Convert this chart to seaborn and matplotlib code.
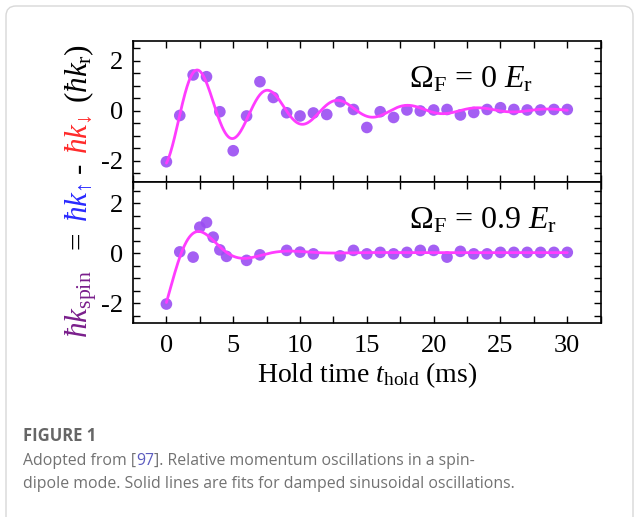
import numpy as np
import pandas as pd
import matplotlib
matplotlib.use("Agg")
import matplotlib.pyplot as plt
import seaborn as sns
from matplotlib.ticker import MultipleLocator, FixedLocator
from matplotlib.patches import FancyBboxPatch
from matplotlib.transforms import IdentityTransform

# ---------------- data ----------------
t_top = list(range(31))
y_top = [-2.04, -0.19, 1.43, 1.36, -0.04, -1.60, -0.21, 1.16, 0.53, -0.08,
         -0.21, -0.09, -0.15, 0.36, 0.05, -0.67, -0.04, -0.27, 0.03, -0.01,
         0.03, 0.05, -0.17, -0.07, 0.05, 0.12, 0.05, 0.03, 0.03, 0.05, 0.05]

t_bot = [0, 1, 2, 2.5, 3, 3.5, 4, 4.5, 6, 7, 9, 10, 11,
         13, 14, 15, 16, 17, 18, 19, 20, 21, 22, 23, 24, 25, 26, 27, 28, 29, 30]
y_bot = [-2.04, 0.05, -0.16, 1.04, 1.23, 0.64, 0.13, -0.13, -0.29, -0.07,
         0.11, 0.04, -0.03,
         -0.11, 0.11, -0.03, 0.03, -0.03, 0.03, 0.11, 0.11, -0.16, 0.07,
         -0.03, -0.03, 0.03, 0.03, 0.03, 0.03, 0.03, 0.03]

# damped-sinusoid fit parameters: amplitude, period (ms), decay (ms), phase (rad), offset
fit_top = [2.20, 5.25, 7.5, -2.864, 0.02]
fit_bot = [2.317, 6.8, 2.6, -2.612, 0.02]

panel_labels = [r"$\Omega_{\mathrm{F}}$ = 0 $E_{\mathrm{r}}$",
                r"$\Omega_{\mathrm{F}}$ = 0.9 $E_{\mathrm{r}}$"]
x_ticks = [0, 5, 10, 15, 20, 25, 30]
y_ticks = [-2, 0, 2]

# ---------------- style ----------------
sns.set_theme(style="ticks")
plt.rcParams.update({
    "font.family": ["Liberation Serif", "DejaVu Serif"],
    "mathtext.fontset": "custom",
    "mathtext.rm": "Liberation Serif",
    "mathtext.it": "Liberation Serif:italic",
    "mathtext.bf": "Liberation Serif:bold",
    "axes.unicode_minus": False,
    "text.color": "black",
    "axes.labelcolor": "black",
    "xtick.color": "black",
    "ytick.color": "black",
    "axes.edgecolor": "black",
})

W, H = 641, 517
fig = plt.figure(figsize=(W / 100, H / 100), dpi=100)
left, right = 133 / W, 600.7 / W
ax1 = fig.add_axes([left, 1 - 182 / H, right - left, (182 - 40.7) / H])
ax2 = fig.add_axes([left, 1 - 323 / H, right - left, (323 - 182) / H], sharex=ax1)

marker_color = "#9a4ef2"
line_color = "#ff3cff"

def fit_curve(p):
    A, T, tau, phi, c = p
    t = np.linspace(0, 30, 800)
    y = A * np.exp(-t / tau) * np.cos(2 * np.pi * t / T + phi) + c
    return pd.DataFrame({"t": t, "y": y})

for ax, tt, yy, p, lab, ylim in [
        (ax1, t_top, y_top, fit_top, panel_labels[0], (-2.85, 2.8)),
        (ax2, t_bot, y_bot, fit_bot, panel_labels[1], (-2.8, 2.85))]:
    df = pd.DataFrame({"t": tt, "y": yy})
    sns.scatterplot(data=df, x="t", y="y", ax=ax, color=marker_color, s=70,
                    edgecolor="none", alpha=0.9, zorder=2)
    sns.lineplot(data=fit_curve(p), x="t", y="y", ax=ax, color=line_color,
                 lw=2.0, zorder=3)
    ax.set_xlim(-2.5, 32.5)
    ax.set_ylim(*ylim)
    ax.xaxis.set_major_locator(FixedLocator(x_ticks))
    ax.xaxis.set_minor_locator(MultipleLocator(2.5))
    ax.yaxis.set_major_locator(FixedLocator(y_ticks))
    ax.yaxis.set_minor_locator(MultipleLocator(0.5))
    ax.tick_params(which="both", direction="in", top=True, right=True,
                   length=5, width=1.0, labelsize=19)
    ax.tick_params(axis="y", pad=7)
    ax.tick_params(axis="x", pad=9)
    for s in ax.spines.values():
        s.set_linewidth(1.2)
        s.set_color("black")
    ax.set_xlabel("")
    ax.set_ylabel("")
    ax.text(0.59, 0.672, lab, transform=ax.transAxes, fontsize=23,
            ha="left", va="baseline")

ax1.tick_params(axis="x", labelbottom=False)
ax2.set_xlabel(r"Hold time $t_{\mathrm{hold}}$ (ms)", fontsize=20, labelpad=2)

# ---------------- multi-coloured y label ----------------
fig.canvas.draw()
renderer = fig.canvas.get_renderer()
pieces = [(r"$\hbar k_{\mathrm{spin}}$", "#7a1f8c"),
          (r"$=$", "black"),
          ("$\\hbar k_{\u2191}$", "#2a2aff"),
          ("-", "black"),
          ("$\\hbar k_{\u2193}$", "#ff2a2a"),
          (r"$(\hbar k_{\mathrm{r}})$", "black")]
gaps = [15, 11, 9, 9, 11, 0]
x_base = 87 / W
y_px = H - 338
for (s, c), g in zip(pieces, gaps):
    txt = fig.text(x_base, y_px / H, s, color=c, fontsize=22.5, rotation=90,
                   rotation_mode="anchor", ha="left", va="baseline")
    bb = txt.get_window_extent(renderer)
    y_px = bb.y1 + g

# ---------------- caption ----------------
cap_font = ["Open Sans", "DejaVu Sans"]
gray = "#727272"
fig.text(23 / W, 1 - 441 / H, "FIGURE 1", family=cap_font, fontsize=12,
         weight="bold", color="#666666", ha="left", va="baseline")
x0 = 23
for s, c in [("Adopted from [", gray), ("97", "#5b5bbf"),
             ("]. Relative momentum oscillations in a spin-", gray)]:
    t = fig.text(x0 / W, 1 - 465 / H, s, family=cap_font, fontsize=11.4,
                 color=c, ha="left", va="baseline")
    x0 = t.get_window_extent(renderer).x1
fig.text(23 / W, 1 - 488 / H,
         "dipole mode. Solid lines are fits for damped sinusoidal oscillations.",
         family=cap_font, fontsize=11.4, color=gray, ha="left", va="baseline")

# light frame
frame = FancyBboxPatch((6, -30), 627, H - 6 + 30,
                       boxstyle="round,pad=0,rounding_size=10",
                       transform=IdentityTransform(), fill=False,
                       edgecolor="#d8d8d8", lw=1.0)
fig.add_artist(frame)

fig.savefig("out.png", dpi=100)
